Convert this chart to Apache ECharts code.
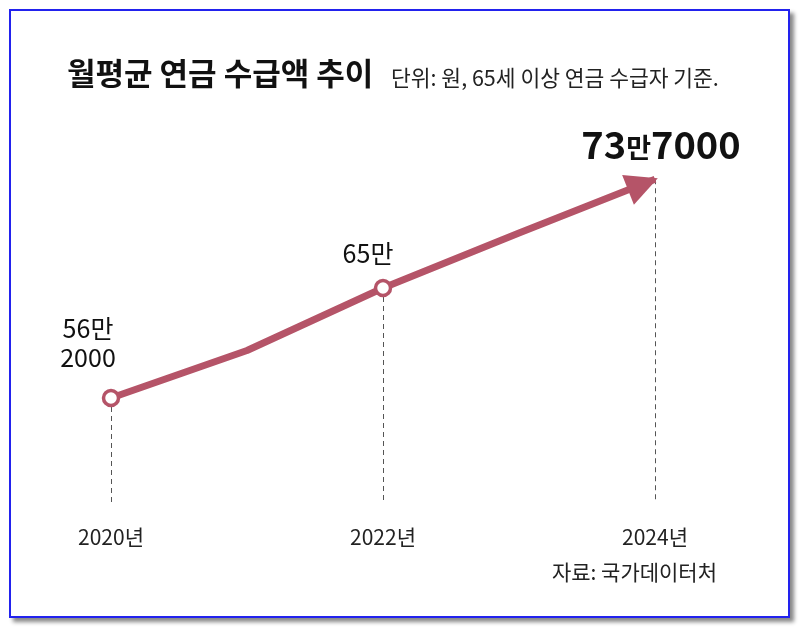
<!DOCTYPE html>
<html>
<head>
<meta charset="utf-8">
<script src="https://cdn.jsdelivr.net/npm/echarts@6/dist/echarts.min.js"></script>
<style>
  html, body { margin: 0; padding: 0; background: #fff; }
  #frame {
    position: absolute; left: 9px; top: 9px; width: 777px; height: 605px;
    border: 2px solid #2222ee; box-shadow: 4px 4px 4px #888;
  }
  #container { position: absolute; left: 0; top: 0; width: 800px; height: 627px; }
</style>
</head>
<body>
<div id="frame"></div>
<div id="container"></div>
<script>
var years = ['2020', '2021', '2022', '2023', '2024'];
var amounts = [562000, 600000, 650000, 694000, 737000];
var labelIdx = [0, 2, 4];
var labelText = ['56만\n2000', '65만', '{big|73}{small|만}{big|7000}'];

var font = "'Liberation Sans Narrow', 'Noto Sans CJK KR', sans-serif";
var red = '#b55468';
var yMin = 478000;

var myChart = echarts.init(document.getElementById('container'));

// labels live on a transparent copy of the series
var labelData = amounts.map(function(v, i) {
  var item = { value: v };
  if (i === 0) {
    item.label = { show: true, formatter: labelText[0], offset: [-23, -14] };
  } else if (i === 2) {
    item.label = { show: true, formatter: labelText[1], offset: [-15, -8] };
  } else if (i === 4) {
    item.label = {
      show: true, formatter: labelText[2], offset: [6, -8],
      rich: {
        big: { fontSize: 38, fontWeight: 'bold', fontFamily: font, color: '#111' },
        small: { fontSize: 27, fontWeight: 'bold', fontFamily: font, color: '#111', padding: [5, 0, 0, 0] }
      }
    };
  }
  return item;
});

function buildLine(rot, off) {
  return amounts.map(function(v, i) {
    if (i === 0 || i === 2) return { value: v, symbol: 'circle' };
    if (i === 4) return { value: v, symbol: 'triangle', symbolSize: [32, 32], symbolRotate: rot, symbolOffset: off,
      itemStyle: { color: red, borderWidth: 0 } };
    return { value: v, symbol: 'none' };
  });
}

// dashed guides from the points down to the axis
var guides = labelIdx.map(function(i) {
  return [{ coord: [years[i], amounts[i]] }, { coord: [years[i], yMin] }];
});

var option = {
  animation: false,
  textStyle: { fontFamily: font },
  title: [
    {
      text: '월평균 연금 수급액 추이',
      left: 62, top: 53,
      textStyle: { fontSize: 31, fontWeight: 'bold', color: '#111', fontFamily: font }
    },
    {
      text: '단위: 원, 65세 이상 연금 수급자 기준.',
      left: 386, top: 62,
      textStyle: { fontSize: 21.5, fontWeight: 'normal', color: '#222', fontFamily: font }
    },
    {
      text: '자료: 국가데이터처',
      right: 78, top: 557,
      textStyle: { fontSize: 21, fontWeight: 'normal', color: '#222', fontFamily: font }
    }
  ],
  grid: { left: 111, right: 145, top: 150.5, bottom: 124 },
  xAxis: {
    type: 'category',
    data: years,
    boundaryGap: false,
    axisLine: { show: false },
    axisTick: { show: false },
    axisLabel: {
      interval: 1,
      margin: 24,
      fontSize: 21,
      color: '#222',
      fontFamily: font,
      formatter: function(v) { return v + '년'; }
    }
  },
  yAxis: {
    type: 'value',
    min: yMin,
    max: 760000,
    show: false,
    splitLine: { show: false }
  },
  series: [
    {
      name: '월평균 연금 수급액',
      type: 'line',
      data: buildLine(0, [0, 0]),
      z: 3,
      symbolSize: 15,
      itemStyle: { color: '#fff', borderColor: red, borderWidth: 3.5 },
      lineStyle: { color: red, width: 7 },
      markLine: {
        silent: true,
        z: 2,
        symbol: ['none', 'none'],
        label: { show: false },
        lineStyle: { type: [5, 4], color: '#555', width: 1 },
        data: guides
      }
    },
    {
      name: 'labels',
      type: 'line',
      data: labelData,
      z: 4,
      silent: true,
      symbol: 'circle',
      symbolSize: 14,
      itemStyle: { color: 'transparent', borderWidth: 0 },
      lineStyle: { opacity: 0 },
      label: {
        position: 'top',
        fontSize: 25,
        lineHeight: 29,
        color: '#111',
        fontFamily: font,
        align: 'center'
      }
    }
  ]
};

myChart.setOption(option);

// point the arrow head along the last segment
var p3 = myChart.convertToPixel({ seriesIndex: 0 }, [3, amounts[3]]);
var p4 = myChart.convertToPixel({ seriesIndex: 0 }, [4, amounts[4]]);
var dx = p4[0] - p3[0], dy = p4[1] - p3[1];
var len = Math.sqrt(dx * dx + dy * dy);
var ux = dx / len, uy = dy / len;
var rot = Math.atan2(-dy, dx) * 180 / Math.PI - 90;
myChart.setOption({ series: [{ data: buildLine(rot, [-ux * 13, -uy * 13]) }] });
</script>
</body>
</html>
